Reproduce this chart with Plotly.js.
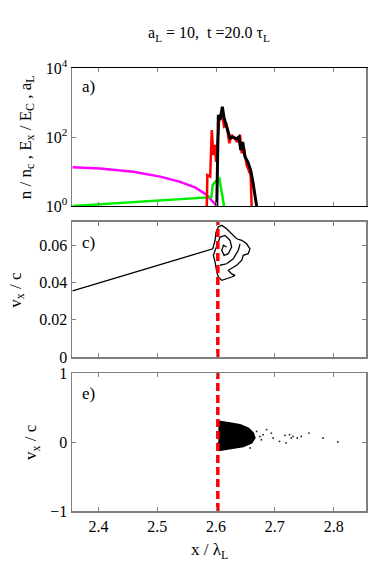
<!DOCTYPE html>
<html>
<head>
<meta charset="utf-8">
<script src="https://cdn.plot.ly/plotly-3.0.1.min.js"></script>
<style>
  body { margin: 0; background: #fff; }
  #plot { width: 382px; height: 566px; }
</style>
</head>
<body>
<div id="plot"></div>
<script>
// panel a) : density, field and laser amplitude (log scale)
var xBlack = [2.6012, 2.6039, 2.6068, 2.6107, 2.6136, 2.6181, 2.6237, 2.6288, 2.635, 2.639, 2.6419, 2.6453, 2.649, 2.654, 2.6588, 2.6622, 2.6661, 2.669];
var nBlack = [1, 437, 309, 759, 355, 182, 93, 100, 89, 100, 42, 72, 27, 19, 11, 5.6, 2.1, 1];

var xRed = [2.5842, 2.5852, 2.590, 2.5927, 2.5954, 2.5983, 2.600, 2.6022, 2.6056, 2.6097, 2.6136, 2.618, 2.6225, 2.6266, 2.632, 2.636, 2.6407, 2.6436, 2.6475, 2.652, 2.6564, 2.6588, 2.6605];
var nRed = [1, 7.9, 7.1, 158, 30, 59, 19, 73, 347, 537, 200, 224, 66, 115, 91, 72, 115, 34, 47, 15.5, 10, 7.9, 1];

var xGreen = [2.356, 2.45, 2.55, 2.592, 2.5944, 2.6012, 2.6056, 2.6097, 2.6136];
var exGreen = [1.0, 1.25, 1.55, 1.8, 4.1, 5.6, 6.3, 2.6, 1];

var xMag = [2.356, 2.403, 2.459, 2.505, 2.539, 2.565, 2.5842, 2.5927, 2.6012];
var aMag = [13.2, 12.3, 9.8, 7.1, 5.0, 3.4, 2.1, 1.5, 1.0];

// panel c) : phase space x - vx
var xPhase = [2.356, 2.5944, 2.5983, 2.600, 2.6039, 2.6097, 2.618, 2.6266, 2.635, 2.6436, 2.652, 2.6576, 2.6547, 2.6463, 2.6436, 2.635, 2.6293, 2.6208, 2.6266, 2.6322, 2.6266, 2.618, 2.6097, 2.6039, 2.6012, 2.5983, 2.5954,
              2.6017, 2.6068, 2.6153, 2.6237, 2.6266, 2.6208, 2.6136, 2.6097, 2.6125, 2.618, null,
              2.6068, 2.618, 2.6293, 2.6378, 2.6407];
var vPhase = [0.0354, 0.0580, 0.0626, 0.0670, 0.0697, 0.0706, 0.0688, 0.0661, 0.0634, 0.0626, 0.0607, 0.0580, 0.0554, 0.0545, 0.0518, 0.0492, 0.0482, 0.0465, 0.0446, 0.0438, 0.0429, 0.0420, 0.0411, 0.0429, 0.0456, 0.0509, 0.0545,
              0.060, 0.0643, 0.0652, 0.0626, 0.059, 0.0554, 0.0545, 0.0572, 0.0599, 0.059, null,
              0.0492, 0.050, 0.0527, 0.0572, 0.0607];

// panel e) : dense particle cloud outline and the sparse particles ahead of it
var xCloud = [2.6039, 2.6056, 2.6237, 2.6407, 2.6547, 2.6632, 2.6661, 2.6605, 2.6463, 2.6293, 2.6153, 2.6056, 2.6039];
var vCloud = [0.28, 0.30, 0.275, 0.25, 0.20, 0.13, 0.058, -0.014, -0.064, -0.087, -0.11, -0.12, 0.0];
var xDots = [2.6746, 2.680, 2.677, 2.686, 2.694, 2.697, 2.708, 2.717, 2.719, 2.725, 2.728, 2.731, 2.738, 2.745, 2.758, 2.782, 2.807, 2.658, 2.669];
var vDots = [0.08, 0.106, 0.033, 0.18, 0.13, 0.058, 0.009, 0.096, -0.014, 0.106, 0.058, 0.081, 0.058, 0.081, 0.13, 0.058, 0.0, -0.087, 0.154];

// target surface position (red dashed line)
var xFront = [2.603, 2.603];
var vFrontC = [0, 0.0724];
var vFrontE = [-1, 1];

var serif = 'Liberation Serif, serif';
var frame = '#7f7f7f';

var data = [
  {x: xMag, y: aMag, xaxis: 'x3', yaxis: 'y3', mode: 'lines', line: {color: '#ff00ff', width: 2.5}},
  {x: xGreen, y: exGreen, xaxis: 'x3', yaxis: 'y3', mode: 'lines', line: {color: '#00ee00', width: 2.5}},
  {x: xRed, y: nRed, xaxis: 'x3', yaxis: 'y3', mode: 'lines', line: {color: '#ff0000', width: 2.5}},
  {x: xBlack, y: nBlack, xaxis: 'x3', yaxis: 'y3', mode: 'lines', line: {color: '#000000', width: 3}},

  {x: xPhase, y: vPhase, xaxis: 'x2', yaxis: 'y2', mode: 'lines', connectgaps: false, line: {color: '#000', width: 1.3}},
  {x: xFront, y: vFrontC, xaxis: 'x2', yaxis: 'y2', mode: 'lines', line: {color: '#ff0000', width: 3.5, dash: '8px,4px'}},

  {x: xCloud, y: vCloud, xaxis: 'x', yaxis: 'y', mode: 'lines', fill: 'toself', fillcolor: '#000', line: {color: '#000', width: 1.5}},
  {x: xDots, y: vDots, xaxis: 'x', yaxis: 'y', mode: 'markers', marker: {color: '#222', size: 1.8}},
  {x: xFront, y: vFrontE, xaxis: 'x', yaxis: 'y', mode: 'lines', line: {color: '#ff0000', width: 3.5, dash: '8px,4px'}}
];

var xBase = {
  range: [2.355, 2.855], tickvals: [2.4, 2.5, 2.6, 2.7, 2.8],
  ticks: 'inside', ticklen: 4, tickcolor: frame, mirror: 'ticks',
  showline: true, linecolor: frame, linewidth: 1.5, showgrid: false, zeroline: false,
  tickfont: {family: serif, size: 16, color: '#000'}
};
function xAx(domainAnchor, labels) {
  var o = Object.assign({}, xBase);
  o.anchor = domainAnchor;
  o.showticklabels = labels;
  return o;
}
var yBase = {
  ticks: 'inside', ticklen: 4, tickcolor: frame, mirror: 'ticks',
  showline: true, linecolor: frame, linewidth: 1.5, showgrid: false, zeroline: false,
  tickfont: {family: serif, size: 16, color: '#000'}
};

var layout = {
  width: 382, height: 566,
  margin: {l: 72, r: 16, t: 68, b: 55},
  paper_bgcolor: '#fff', plot_bgcolor: '#fff',
  showlegend: false,
  font: {family: serif, color: '#000'},
  title: {text: 'a<sub>L</sub> = 10,&nbsp; t =20.0 τ<sub>L</sub>', font: {family: serif, size: 16, color: '#000'},
          xref: 'container', yref: 'container', x: 0.547, y: 0.942, xanchor: 'center', yanchor: 'middle'},
  xaxis: xAx('y', true),
  xaxis2: xAx('y2', false),
  xaxis3: Object.assign(xAx('y3', false), {linecolor: '#000'}),
  yaxis: Object.assign({}, yBase, {domain: [0, 0.3115], range: [-1, 1], tickvals: [-1, 0, 1]}),
  yaxis2: Object.assign({}, yBase, {domain: [0.3476, 0.6524], range: [0, 0.0724], tickvals: [0, 0.02, 0.04, 0.06], ticktext: ['0', '0.02', '0.04', '0.06']}),
  yaxis3: Object.assign({}, yBase, {domain: [0.6885, 1], type: 'log', range: [0, 4], tickvals: [1, 100, 10000],
    ticktext: ['10<sup>0</sup>', '10<sup>2</sup>', '10<sup>4</sup>']}),
  annotations: [
    {text: 'a)', xref: 'paper', yref: 'paper', x: 0.027, y: 0.959, xanchor: 'left', yanchor: 'middle', showarrow: false, font: {family: serif, size: 17}},
    {text: 'c)', xref: 'paper', yref: 'paper', x: 0.027, y: 0.607, xanchor: 'left', yanchor: 'middle', showarrow: false, font: {family: serif, size: 17}},
    {text: 'e)', xref: 'paper', yref: 'paper', x: 0.027, y: 0.266, xanchor: 'left', yanchor: 'middle', showarrow: false, font: {family: serif, size: 17}},
    {text: 'n / n<sub>c</sub> , E<sub>x</sub> / E<sub>C</sub> , a<sub>L</sub>', xref: 'paper', yref: 'paper', x: -0.153, y: 0.844, textangle: -90,
     xanchor: 'center', yanchor: 'middle', showarrow: false, font: {family: serif, size: 17}},
    {text: 'v<sub>x</sub> / c', xref: 'paper', yref: 'paper', x: -0.19, y: 0.5, textangle: -90,
     xanchor: 'center', yanchor: 'middle', showarrow: false, font: {family: serif, size: 17}},
    {text: 'v<sub>x</sub> / c', xref: 'paper', yref: 'paper', x: -0.136, y: 0.156, textangle: -90,
     xanchor: 'center', yanchor: 'middle', showarrow: false, font: {family: serif, size: 17}},
    {text: 'x / λ<sub>L</sub>', xref: 'paper', yref: 'paper', x: 0.469, y: -0.09, xanchor: 'center', yanchor: 'middle',
     showarrow: false, font: {family: serif, size: 17}}
  ]
};

Plotly.newPlot('plot', data, layout, {staticPlot: true, displayModeBar: false});
</script>
</body>
</html>
